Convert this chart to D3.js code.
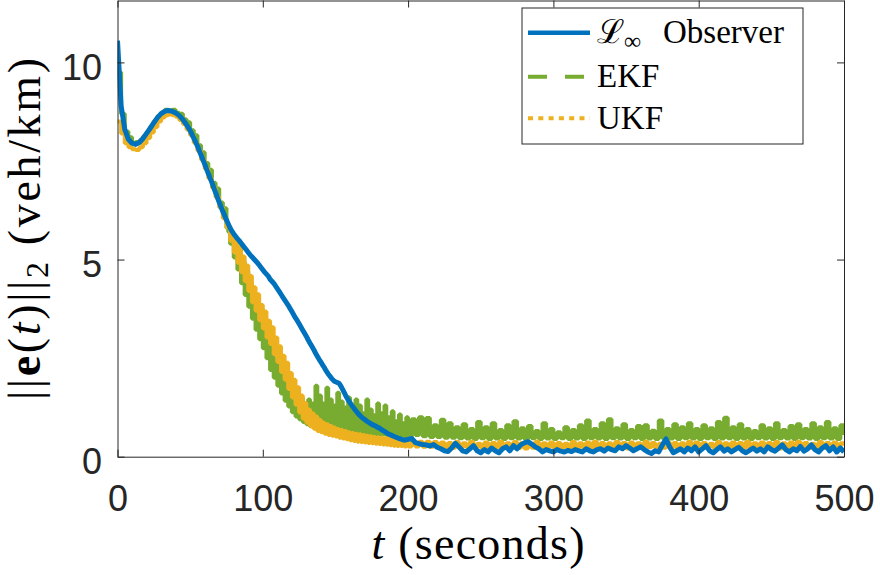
<!DOCTYPE html>
<html lang="en">
<head>
  <meta charset="UTF-8">
  <title>Estimation error norm</title>
  <style>
    body { margin: 0; background: #fff; }
    svg { display: block; background: #fff; }
    .axis path, .axis line { stroke: #262626; stroke-width: 1px; }
    .axis text { font-family: 'Liberation Sans', Arial, sans-serif; font-size: 36px; fill: #262626; }
    .serif { font-family: 'Liberation Serif', 'Times New Roman', serif; fill: #000; }
  </style>
</head>
<body>
  <svg id="chart" width="880" height="575"></svg>
  <script src="https://d3js.org/d3.v7.min.js"></script>
  <script>
    // sample times: 2.5 s, finer (1.25 s) through the transient 76.25..200
    const time = d3.range(0, 76, 2.5)
      .concat(d3.range(76.25, 200.1, 1.25), d3.range(202.5, 500.1, 2.5))

    const observer = [
      // 0 .. 75
      10.55, 8.9, 8.3, 8.05, 7.95, 7.92, 7.97, 8.07, 8.2, 8.33,
      8.47, 8.6, 8.7, 8.76, 8.78, 8.76, 8.72, 8.65, 8.55, 8.42,
      8.27, 8.08, 7.88, 7.65, 7.42, 7.18, 6.95, 6.7, 6.45, 6.22,
      6.0,
      // 76.25 .. 200
      5.9, 5.8, 5.72, 5.65, 5.59, 5.53, 5.48, 5.42, 5.36, 5.3,
      5.24, 5.18, 5.12, 5.07, 5.02, 4.97, 4.92, 4.86, 4.8, 4.74,
      4.68, 4.63, 4.58, 4.5, 4.45, 4.4, 4.33, 4.26, 4.19, 4.12,
      4.05, 3.98, 3.91, 3.84, 3.76, 3.68, 3.6, 3.52, 3.45, 3.37,
      3.29, 3.21, 3.13, 3.05, 2.96, 2.88, 2.8, 2.72, 2.63, 2.55,
      2.47, 2.4, 2.32, 2.25, 2.17, 2.1, 2.04, 1.98, 1.93, 1.9,
      1.88, 1.86, 1.79, 1.7, 1.61, 1.52, 1.44, 1.37, 1.3, 1.24,
      1.18, 1.12, 1.07, 1.02, 0.98, 0.95, 0.91, 0.88, 0.85, 0.82,
      0.8, 0.78, 0.75, 0.73, 0.7, 0.67, 0.64, 0.61, 0.58, 0.56,
      0.54, 0.52, 0.5, 0.48, 0.46, 0.45, 0.43, 0.42, 0.43, 0.44,
      // 202.5 .. 500
      0.46, 0.36, 0.33, 0.31, 0.3, 0.27, 0.31, 0.24, 0.2,
      0.15, 0.13, 0.22, 0.34, 0.25, 0.15, 0.12, 0.2, 0.28, 0.15,
      0.1, 0.18, 0.12, 0.22, 0.15, 0.1, 0.2, 0.25, 0.15, 0.28,
      0.2, 0.3, 0.35, 0.38, 0.32, 0.25, 0.2, 0.12, 0.18, 0.15,
      0.12, 0.18, 0.14, 0.12, 0.16, 0.13, 0.18, 0.15, 0.12, 0.2,
      0.15, 0.12, 0.18, 0.2, 0.14, 0.22, 0.18, 0.15, 0.25, 0.2,
      0.28, 0.22, 0.15, 0.2, 0.25, 0.18, 0.12, 0.08, 0.15, 0.12,
      0.3, 0.45, 0.25, 0.1, 0.15, 0.2, 0.12, 0.22, 0.15, 0.25,
      0.12, 0.2, 0.28, 0.15, 0.1, 0.18, 0.25, 0.14, 0.2, 0.12,
      0.18, 0.24, 0.15, 0.1, 0.16, 0.22, 0.14, 0.2, 0.12, 0.25,
      0.18, 0.14, 0.22, 0.3, 0.18, 0.12, 0.2, 0.15, 0.26, 0.14,
      0.2, 0.3, 0.18, 0.12, 0.22, 0.28, 0.15, 0.25, 0.12, 0.22,
      0.12
    ]

    const ekf = [
      // 0 .. 75
      9.75, 8.7, 8.25, 8.1, 7.96, 7.98, 8.02, 8.12, 8.22, 8.38,
      8.5, 8.64, 8.72, 8.8, 8.78, 8.8, 8.72, 8.7, 8.56, 8.48,
      8.28, 8.15, 7.9, 7.72, 7.45, 7.28, 6.95, 6.8, 6.45, 6.3,
      5.8,
      // 76.25 .. 200
      5.7, 5.4, 5.62, 5.05, 5.4, 4.75, 5.15, 4.4, 4.95, 4.1,
      4.7, 3.8, 4.4, 3.5, 4.05, 3.22, 3.8, 2.98, 3.45, 2.75,
      3.3, 2.5, 3.0, 2.2, 2.8, 2.0, 2.45, 1.8, 2.3, 1.6,
      2.05, 1.42, 1.95, 1.27, 1.7, 1.13, 1.62, 1.02, 1.45, 0.95,
      1.5, 0.88, 1.3, 0.82, 1.45, 0.77, 1.35, 0.74, 1.8, 0.72,
      1.55, 0.7, 1.35, 0.68, 1.75, 0.67, 1.45, 0.66, 1.3, 0.65,
      1.62, 0.64, 1.4, 0.63, 1.25, 0.62, 1.5, 0.62, 1.2, 0.61,
      1.45, 0.6, 1.3, 0.6, 1.1, 0.59, 1.45, 0.58, 1.2, 0.58,
      1.05, 0.57, 1.35, 0.56, 1.1, 0.56, 1.3, 0.55, 1.0, 0.54,
      1.15, 0.54, 0.9, 0.53, 1.07, 0.52, 0.85, 0.52, 1.0, 0.51,
      // 202.5 .. 500
      0.95, 0.55, 1.0, 0.52, 0.98, 0.5, 0.8, 0.5, 0.94,
      0.48, 0.85, 0.48, 0.75, 0.47, 0.82, 0.46, 0.7, 0.45, 0.88,
      0.47, 0.75, 0.45, 0.85, 0.46, 0.68, 0.45, 0.8, 0.47, 0.9,
      0.46, 0.72, 0.45, 0.78, 0.47, 0.65, 0.45, 0.85, 0.46, 0.7,
      0.45, 0.62, 0.47, 0.75, 0.45, 0.68, 0.46, 0.8, 0.45, 0.92,
      0.47, 0.7, 0.46, 0.85, 0.45, 0.95, 0.47, 0.72, 0.46, 0.82,
      0.45, 0.68, 0.47, 0.78, 0.45, 0.8, 0.46, 0.66, 0.45, 0.92,
      0.47, 0.7, 0.46, 0.82, 0.45, 0.75, 0.47, 0.85, 0.46, 0.7,
      0.45, 0.8, 0.47, 0.72, 0.45, 0.88, 0.46, 0.99, 0.47, 0.75,
      0.45, 0.82, 0.46, 0.7, 0.45, 0.65, 0.47, 0.8, 0.46, 0.72,
      0.45, 0.85, 0.47, 0.68, 0.46, 0.78, 0.45, 0.82, 0.47, 0.7,
      0.46, 0.85, 0.45, 0.75, 0.47, 0.88, 0.46, 0.72, 0.45, 0.8,
      0.55
    ]

    const ukf = [
      // 0 .. 75
      8.5, 8.2, 7.95, 7.85, 7.8, 7.78, 7.85, 7.95, 8.08, 8.22,
      8.36, 8.5, 8.6, 8.66, 8.68, 8.66, 8.62, 8.54, 8.44, 8.3,
      8.15, 7.96, 7.76, 7.53, 7.3, 7.06, 6.82, 6.58, 6.32, 6.05,
      5.82,
      // 76.25 .. 200
      5.84, 5.48, 5.6, 5.18, 5.45, 4.92, 5.3, 4.68, 5.08, 4.45,
      4.85, 4.2, 4.58, 3.92, 4.3, 3.7, 4.12, 3.46, 3.85, 3.25,
      3.68, 3.02, 3.45, 2.86, 3.28, 2.6, 3.02, 2.4, 2.8, 2.15,
      2.56, 1.95, 2.38, 1.72, 2.12, 1.5, 1.95, 1.32, 1.76, 1.12,
      1.55, 0.96, 1.36, 0.86, 1.2, 0.78, 1.1, 0.71, 1.02, 0.65,
      0.93, 0.62, 0.86, 0.58, 0.82, 0.55, 0.78, 0.53, 0.74, 0.51,
      0.7, 0.48, 0.68, 0.46, 0.65, 0.44, 0.62, 0.42, 0.6, 0.4,
      0.58, 0.38, 0.57, 0.37, 0.55, 0.36, 0.53, 0.35, 0.52, 0.34,
      0.5, 0.33, 0.49, 0.32, 0.48, 0.31, 0.47, 0.3, 0.46, 0.29,
      0.45, 0.28, 0.44, 0.27, 0.43, 0.27, 0.42, 0.26, 0.41, 0.26,
      // 202.5 .. 500
      0.4, 0.26, 0.38, 0.25, 0.38, 0.25, 0.37, 0.24, 0.36,
      0.24, 0.35, 0.23, 0.37, 0.22, 0.34, 0.24, 0.38, 0.22, 0.33,
      0.23, 0.36, 0.21, 0.35, 0.24, 0.38, 0.22, 0.34, 0.23, 0.37,
      0.22, 0.35, 0.21, 0.33, 0.23, 0.38, 0.22, 0.34, 0.24, 0.36,
      0.22, 0.35, 0.23, 0.33, 0.22, 0.37, 0.21, 0.34, 0.23, 0.36,
      0.22, 0.38, 0.24, 0.35, 0.22, 0.34, 0.23, 0.37, 0.22, 0.35,
      0.21, 0.36, 0.23, 0.34, 0.22, 0.38, 0.24, 0.35, 0.22, 0.33,
      0.23, 0.37, 0.22, 0.35, 0.21, 0.34, 0.23, 0.38, 0.22, 0.36,
      0.24, 0.35, 0.22, 0.33, 0.23, 0.37, 0.22, 0.34, 0.21, 0.36,
      0.23, 0.35, 0.22, 0.38, 0.24, 0.34, 0.22, 0.36, 0.23, 0.35,
      0.22, 0.37, 0.21, 0.34, 0.23, 0.36, 0.22, 0.38, 0.24, 0.35,
      0.22, 0.33, 0.23, 0.37, 0.22, 0.35, 0.21, 0.36, 0.23, 0.34,
      0.28
    ]

    const xTicks = [0, 100, 200, 300, 400, 500]
    const yTicks = [0, 5, 10]

    const svg = d3.select('#chart')

    const x = d3.scaleLinear().domain([0, 500]).range([117.5, 844])
    const y = d3.scaleLinear().domain([0, 11.57]).range([456.7, 0.5])

    const blue = '#0072BD'
    const green = '#77AC30'
    const yellow = '#EDB120'

    // clip to the axes box
    svg.append('clipPath').attr('id', 'plotclip')
      .append('rect')
      .attr('x', x(0)).attr('y', y(11.57))
      .attr('width', x(500) - x(0)).attr('height', y(0) - y(11.57))

    const plot = svg.append('g').attr('clip-path', 'url(#plotclip)')

    const smooth = d3.line()
      .x((d, i) => x(time[i]))
      .y(d => y(d))

    // the filter estimates are held between samples, so draw them as steps
    const stairs = d3.line()
      .x((d, i) => x(time[i]))
      .y(d => y(d))
      .curve(d3.curveStepAfter)

    plot.append('path')
      .attr('d', stairs(ekf))
      .attr('fill', 'none')
      .attr('stroke', green)
      .attr('stroke-width', 4)
      .attr('stroke-linejoin', 'bevel')

    plot.append('path')
      .attr('d', stairs(ukf))
      .attr('fill', 'none')
      .attr('stroke', yellow)
      .attr('stroke-width', 4)
      .attr('stroke-linejoin', 'bevel')

    plot.append('path')
      .attr('d', smooth(observer))
      .attr('fill', 'none')
      .attr('stroke', blue)
      .attr('stroke-width', 5)
      .attr('stroke-linejoin', 'round')

    // axes, ticks pointing inward like MATLAB
    svg.append('g')
      .attr('class', 'axis')
      .attr('transform', `translate(0, ${y(0)})`)
      .call(d3.axisBottom(x).tickValues(xTicks).tickSize(-7).tickSizeOuter(0).tickPadding(29))
      .call(g => g.selectAll('text').attr('dy', '0.71em'))

    svg.append('g')
      .attr('class', 'axis')
      .attr('transform', `translate(0, ${y(11.57)})`)
      .call(d3.axisTop(x).tickValues(xTicks).tickSize(-7).tickSizeOuter(0).tickFormat(''))

    svg.append('g')
      .attr('class', 'axis')
      .attr('transform', `translate(${x(0)}, 0)`)
      .call(d3.axisLeft(y).tickValues(yTicks).tickSize(-7).tickSizeOuter(0).tickPadding(15.5))
      .call(g => g.selectAll('text').attr('dy', '0.47em'))

    svg.append('g')
      .attr('class', 'axis')
      .attr('transform', `translate(${x(500)}, 0)`)
      .call(d3.axisRight(y).tickValues(yTicks).tickSize(-7).tickSizeOuter(0).tickFormat(''))

    svg.selectAll('.axis .domain').attr('fill', 'none')

    // axis labels
    const xLabel = svg.append('text')
      .attr('class', 'serif')
      .attr('x', 478)
      .attr('y', 559)
      .attr('text-anchor', 'middle')
      .attr('font-size', 46)
      .attr('textLength', 213)
      .attr('lengthAdjust', 'spacing')
    xLabel.append('tspan').attr('font-style', 'italic').text('t')
    xLabel.append('tspan').text(' (seconds)')

    const yLabel = svg.append('text')
      .attr('class', 'serif')
      .attr('transform', 'translate(40, 229) rotate(-90)')
      .attr('text-anchor', 'middle')
      .attr('font-size', 46)
      .attr('textLength', 342)
      .attr('lengthAdjust', 'spacing')
    yLabel.append('tspan').text('||')
    yLabel.append('tspan').attr('font-weight', 'bold').text('e')
    yLabel.append('tspan').text('(')
    yLabel.append('tspan').attr('font-style', 'italic').text('t')
    yLabel.append('tspan').text(')||')
    yLabel.append('tspan').attr('font-size', 32).attr('dy', 8).text('2')
    yLabel.append('tspan').attr('dy', -8).text(' (veh/km)')

    // legend
    const legendItems = [
      { color: blue, dash: null, width: 4.5 },
      { color: green, dash: '19 18', width: 4 },
      { color: yellow, dash: '5 5.3', width: 4 }
    ]
    const legendRows = [32.7, 76.7, 118.3]

    const legend = svg.append('g')
    legend.append('rect')
      .attr('x', 522).attr('y', 8)
      .attr('width', 281).attr('height', 136)
      .attr('fill', '#fff')
      .attr('stroke', '#262626')
      .attr('stroke-width', 1)

    legend.selectAll('.legend-line')
      .data(legendItems)
      .enter()
      .append('line')
      .attr('class', 'legend-line')
      .attr('x1', 528).attr('x2', 590)
      .attr('y1', (d, i) => legendRows[i]).attr('y2', (d, i) => legendRows[i])
      .attr('stroke', d => d.color)
      .attr('stroke-width', d => d.width)
      .attr('stroke-dasharray', d => d.dash)

    const l0 = legend.append('text').attr('class', 'serif')
      .attr('x', 597).attr('y', legendRows[0] + 10.5).attr('font-size', 33)
    l0.append('tspan').text('ℒ')
    l0.append('tspan').attr('font-size', 24).attr('dy', 6).text('∞')
    l0.append('tspan').attr('x', 663).attr('dy', -6).text('Observer')

    legend.append('text').attr('class', 'serif')
      .attr('x', 597).attr('y', legendRows[1] + 10).attr('font-size', 33)
      .text('EKF')
    legend.append('text').attr('class', 'serif')
      .attr('x', 597).attr('y', legendRows[2] + 11).attr('font-size', 33)
      .text('UKF')
  </script>
</body>
</html>
